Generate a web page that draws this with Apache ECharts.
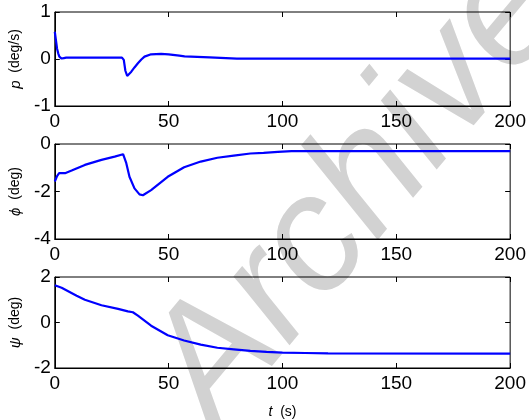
<!DOCTYPE html>
<html>
<head>
<meta charset="utf-8">
<script src="https://cdn.jsdelivr.net/npm/echarts@6/dist/echarts.min.js"></script>
<style>
  html, body { margin: 0; padding: 0; background: #fff; }
  #chart { width: 529px; height: 420px; }
</style>
</head>
<body>
<div id="chart"></div>
<script>
// Time axis ticks (s)
const xTicks = [0, 50, 100, 150, 200];

// Roll rate p (deg/s)
const pTime = [0, 0.5, 1, 1.5, 2, 3, 4, 5, 10, 20, 29.5, 30.3, 31, 31.8, 32.5, 33.6, 35, 36.5, 38, 39.4, 42.3, 46.7, 50, 54.7, 57, 57.5, 68, 68.5, 80, 120, 200];
const pVals = [0.58, 0.4, 0.22, 0.12, 0.05, 0.01, 0.02, 0.03, 0.03, 0.03, 0.03, -0.02, -0.25, -0.36, -0.34, -0.27, -0.18, -0.09, -0.01, 0.05, 0.1, 0.11, 0.1, 0.07, 0.055, 0.035, 0.035, 0.013, 0.01, 0.01, 0.01];

// Roll angle phi (deg)
const phiTime = [0, 1, 1.9, 4.5, 7.4, 13.2, 20.5, 26.3, 30, 30.6, 31.4, 32.8, 35, 37.2, 38.7, 42.3, 49.6, 56.8, 64.1, 71.4, 78.6, 85.9, 91.7, 98, 104, 200];
const phiVals = [-1.58, -1.35, -1.23, -1.23, -1.12, -0.88, -0.67, -0.53, -0.43, -0.45, -0.81, -1.38, -1.87, -2.12, -2.16, -1.94, -1.38, -0.98, -0.74, -0.58, -0.49, -0.4, -0.37, -0.33, -0.3, -0.3];

// Heading angle psi (deg)
const psiTime = [0, 3, 9.6, 13.2, 20.5, 27.8, 32.1, 34.3, 36.5, 42.3, 49.6, 56.8, 64.1, 71.4, 78.6, 85.9, 93, 100, 110, 120, 200];
const psiVals = [1.64, 1.53, 1.18, 1.0, 0.76, 0.6, 0.49, 0.45, 0.3, -0.14, -0.56, -0.79, -0.97, -1.11, -1.18, -1.25, -1.29, -1.32, -1.34, -1.36, -1.37];

// Y-axis ranges and labels for each panel
const yRanges = [
  { min: -1, max: 1, interval: 1, sym: 'p', unit: '(deg/s)' },
  { min: -4, max: 0, interval: 2, sym: 'ϕ', unit: '(deg)' },
  { min: -2, max: 2, interval: 2, sym: 'ψ', unit: '(deg)' }
];
const seriesTime = [pTime, phiTime, psiTime];
const seriesVals = [pVals, phiVals, psiVals];

const FONT = 'Liberation Sans, Arial, Helvetica, sans-serif';
const grids = [
  { left: 53, top: 12, width: 459, height: 94 },
  { left: 53, top: 144, width: 459, height: 95 },
  { left: 53, top: 277, width: 459, height: 96 }
];

const xAxis = [], yAxis = [], series = [];
grids.forEach((g, i) => {
  g.show = true;
  g.borderColor = '#000';
  g.borderWidth = 1;
  g.backgroundColor = 'transparent';
  const base = { type: 'value', gridIndex: i, min: 0, max: 200, interval: 50 };
  xAxis.push(Object.assign({}, base, {
    position: 'bottom',
    axisLine: { show: true, onZero: false, lineStyle: { color: '#000', width: 1 } },
    axisTick: { show: true, inside: true, length: 5, lineStyle: { color: '#000' } },
    axisLabel: { show: true, color: '#000', fontSize: 19, fontFamily: FONT, margin: 6,
      formatter: v => xTicks.indexOf(v) >= 0 ? String(v) : '' },
    splitLine: { show: false },
    name: i === 2 ? '{i|t}  (s)' : '',
    nameLocation: 'middle', nameGap: 37,
    nameTextStyle: { color: '#000', fontSize: 14, fontFamily: FONT,
      rich: { i: { fontStyle: 'italic', fontSize: 14, fontFamily: FONT, color: '#000' } } }
  }));
  xAxis.push(Object.assign({}, base, {
    position: 'top',
    axisLine: { show: false, onZero: false },
    axisTick: { show: true, inside: true, length: 5, lineStyle: { color: '#000' } },
    axisLabel: { show: false },
    splitLine: { show: false }
  }));
  const r = yRanges[i];
  const ybase = { type: 'value', gridIndex: i, min: r.min, max: r.max, interval: r.interval };
  yAxis.push(Object.assign({}, ybase, {
    position: 'left',
    axisLine: { show: true, onZero: false, lineStyle: { color: '#000', width: 1 } },
    axisTick: { show: true, inside: true, length: 5, lineStyle: { color: '#000' } },
    axisLabel: { show: true, color: '#000', fontSize: 19, fontFamily: FONT, margin: 4 },
    splitLine: { show: false },
    name: '{i|' + r.sym + '}  ' + r.unit,
    nameLocation: 'middle', nameRotate: 90, nameGap: 30,
    nameTextStyle: { color: '#000', fontSize: 14, fontFamily: FONT,
      rich: { i: { fontStyle: 'italic', fontSize: 15, fontFamily: FONT, color: '#000' } } }
  }));
  yAxis.push(Object.assign({}, ybase, {
    position: 'right',
    axisLine: { show: false, onZero: false },
    axisTick: { show: true, inside: true, length: 5, lineStyle: { color: '#000' } },
    axisLabel: { show: false },
    splitLine: { show: false }
  }));
  series.push({
    type: 'line',
    xAxisIndex: i * 2,
    yAxisIndex: i * 2,
    data: seriesTime[i].map((t, k) => [t, seriesVals[i][k]]),
    showSymbol: false,
    smooth: false,
    lineStyle: { color: '#0000ff', width: 2.2 },
    itemStyle: { color: '#0000ff' },
    clip: true,
    z: 3
  });
});

const chart = echarts.init(document.getElementById('chart'), null, { renderer: 'canvas' });
chart.setOption({
  animation: false,
  backgroundColor: '#fff',
  grid: grids,
  xAxis: xAxis,
  yAxis: yAxis,
  series: series,
  // faint diagonal stamp across the page
  graphic: [{
    type: 'text',
    z: -10,
    silent: true,
    x: 245,
    y: 455,
    rotation: 50 * Math.PI / 180,
    style: {
      text: 'Archive',
      fill: '#d2d2d2',
      font: 'italic 165px "Liberation Sans", Arial, sans-serif',
      textAlign: 'left',
      textVerticalAlign: 'bottom'
    }
  }]
});
</script>
</body>
</html>
